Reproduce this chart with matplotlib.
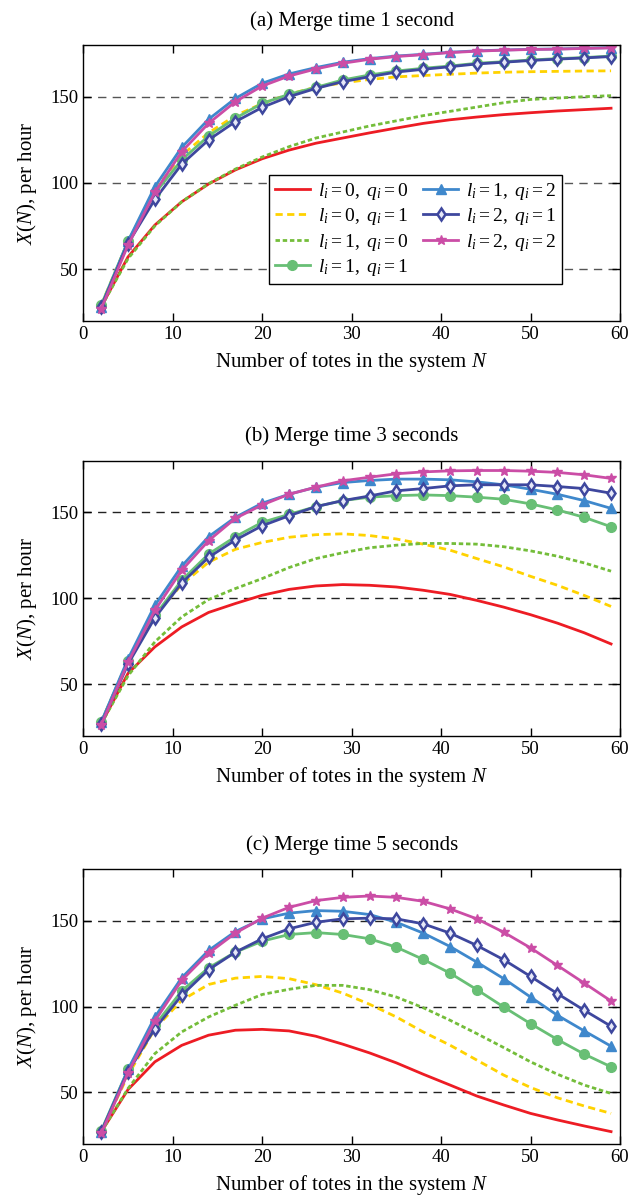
import numpy as np
import matplotlib
matplotlib.use("Agg")
import matplotlib.pyplot as plt

plt.rcParams['font.family'] = ['Liberation Serif', 'DejaVu Serif']
plt.rcParams['mathtext.fontset'] = 'custom'
plt.rcParams['mathtext.rm'] = 'Liberation Serif'
plt.rcParams['mathtext.it'] = 'Liberation Serif:italic'
plt.rcParams['font.size'] = 13

# Number of totes N
N = [2, 5, 8, 11, 14, 17, 20, 23, 26, 29, 32, 35, 38, 41, 44, 47, 50, 53, 56, 59]

labels = [r'$l_i = 0,\ q_i = 0$', r'$l_i = 0,\ q_i = 1$', r'$l_i = 1,\ q_i = 0$',
          r'$l_i = 1,\ q_i = 1$', r'$l_i = 1,\ q_i = 2$', r'$l_i = 2,\ q_i = 1$',
          r'$l_i = 2,\ q_i = 2$']
titles = ["(a) Merge time 1 second", "(b) Merge time 3 seconds", "(c) Merge time 5 seconds"]

# (a) merge time 1 s
a_l0q0 = [28, 57, 75.5, 89, 99.3, 107.5, 114, 119, 123, 126, 129, 131.8, 134.5, 136.6, 138.2, 139.6, 140.7, 141.7, 142.5, 143.3]
a_l0q1 = [29, 66, 96, 116, 129, 139, 146, 151.5, 155.5, 158, 160, 161.5, 162.3, 163, 163.7, 164.2, 164.5, 164.7, 164.9, 165]
a_l1q0 = [28, 56, 75, 89, 99.5, 108, 115, 121, 126, 129.5, 133, 136, 139, 141.5, 144, 146.5, 148.4, 149.2, 150, 150.6]
a_l1q1 = [29, 66.2, 93.9, 113.3, 127.2, 137.5, 146.1, 151.4, 155.4, 159.7, 162.6, 164.9, 166.5, 167.8, 169.4, 170.3, 171.3, 172.1, 172.7, 173.6]
a_l1q2 = [28, 66.2, 97.8, 120.6, 136.9, 149, 157.8, 163.2, 166.9, 170, 172.1, 173.6, 174.6, 175.8, 176.6, 177.1, 177.5, 177.7, 178.1, 178.5]
a_l2q1 = [28, 64.8, 90.4, 110.8, 124.9, 135.5, 143.8, 150, 154.8, 158.7, 161.6, 164.3, 165.9, 167.4, 169, 170, 171, 171.8, 172.5, 173.3]
a_l2q2 = [27, 63.9, 94.5, 118.1, 134.5, 147.1, 156.2, 162, 166.1, 169.4, 171.7, 173.3, 174.4, 175.6, 176.4, 177, 177.4, 177.6, 178, 178.3]

# (b) merge time 3 s
b_l0q0 = [27, 56.4, 71.8, 83.4, 91.8, 97, 101.8, 105.2, 107.2, 108, 107.6, 106.6, 104.7, 102.3, 98.8, 94.9, 90.5, 85.6, 80, 73.5]
b_l0q1 = [28, 64, 90, 108, 121, 128.5, 132.5, 135.5, 137, 137.5, 136.5, 134.5, 131.5, 128, 123.1, 118.3, 112.8, 107.6, 101.7, 95.3]
b_l1q0 = [27, 55, 74.7, 89.2, 99.3, 105.7, 111.5, 117.9, 123.1, 126.5, 129.4, 130.9, 131.9, 131.9, 131.5, 130, 127.6, 124.5, 120.6, 115.8]
b_l1q1 = [28, 63.8, 90.1, 110.5, 125.7, 135.8, 144.2, 148.8, 153.3, 156.8, 158.8, 159.7, 160.1, 159.7, 158.8, 157.6, 154.9, 151.4, 147.1, 141.6]
b_l1q2 = [28, 64.8, 96, 118.7, 135.8, 147.1, 155.3, 160.5, 164.6, 167.3, 168.5, 169.3, 169.3, 168.9, 167.7, 166, 163.4, 160.5, 156.8, 152.3]
b_l2q1 = [27, 61.8, 88.7, 108.9, 123.8, 133.9, 142.2, 148, 153.3, 156.8, 159.5, 162.5, 163.8, 165.4, 166, 166, 166, 165, 163.8, 161.1]
b_l2q2 = [26.5, 62.8, 93, 116.3, 133.5, 146.5, 154.3, 160.5, 164.6, 168.3, 170.4, 172.4, 173.5, 174.1, 174.3, 174.3, 173.9, 173.2, 171.8, 169.7]

# (c) merge time 5 s
c_l0q0 = [27, 51.7, 67.8, 77.4, 83.3, 86.2, 86.7, 85.8, 82.7, 78.1, 73, 67.2, 60.6, 54.3, 47.9, 42.7, 37.8, 34, 30.5, 27.2]
c_l0q1 = [27, 60, 87, 103.6, 112.8, 116.5, 117.5, 116.2, 112.7, 107.8, 101.3, 93.9, 85.2, 77.5, 68.8, 60.1, 52.9, 46.9, 42.1, 37.8]
c_l1q0 = [27, 52.3, 72.6, 85.2, 93.9, 100.7, 107, 110, 112.3, 112.3, 109.8, 105.5, 99.3, 92, 84.2, 76.1, 67.8, 60.6, 54.3, 49.4]
c_l1q1 = [27.6, 63.4, 89.1, 109, 122.5, 131.6, 138, 141.9, 143, 141.9, 139.4, 134.5, 127.4, 119.4, 109.8, 99.7, 90, 80.8, 72.3, 64.9]
c_l1q2 = [27, 63.4, 93.9, 116.7, 132.6, 143.6, 151, 154.3, 155.8, 155.4, 153.5, 149, 142.7, 134.9, 125.8, 116.2, 105.5, 94.9, 85.8, 76.9]
c_l2q1 = [27, 62, 87.1, 106.5, 121.4, 131.6, 139.4, 145.2, 149, 151, 151.4, 151, 148.1, 142.7, 135.5, 127.2, 117.5, 107.5, 97.8, 88.5]
c_l2q2 = [26.2, 61.4, 91.6, 115.2, 131, 142.7, 151.4, 157.7, 161.6, 163.5, 164.3, 163.5, 161.2, 156.8, 151, 143.2, 134.1, 123.9, 113.6, 103.2]

panels = [
    [a_l0q0, a_l0q1, a_l1q0, a_l1q1, a_l1q2, a_l2q1, a_l2q2],
    [b_l0q0, b_l0q1, b_l1q0, b_l1q1, b_l1q2, b_l2q1, b_l2q2],
    [c_l0q0, c_l0q1, c_l1q0, c_l1q1, c_l1q2, c_l2q1, c_l2q2],
]

styles = [
    dict(color='#ED1C24', lw=2.0, ls='-'),
    dict(color='#FFD200', lw=2.0, ls=(0, (2.6, 1.6))),
    dict(color='#74BD3A', lw=2.0, ls=(0, (1.6, 1.0))),
    dict(color='#68BF75', lw=2.0, ls='-', marker='o', ms=7),
    dict(color='#3F88CC', lw=2.0, ls='-', marker='^', ms=7),
    dict(color='#3E479E', lw=2.0, ls='-', marker='d', ms=6, mfc='#e6e8f8', mew=1.8),
    dict(color='#CB4DA6', lw=2.0, ls='-', marker='*', ms=7.5),
]

fig = plt.figure(figsize=(6.37, 11.99), dpi=100)
tops = [45, 460.7, 869]
bots = [320.7, 736, 1144]
W, H = 637.0, 1199.0

for k in range(3):
    ax = fig.add_axes([83.3 / W, 1 - bots[k] / H, (620 - 83.3) / W, (bots[k] - tops[k]) / H])
    for series, st, lab in zip(panels[k], styles, labels):
        ax.plot(N, series, label=lab, **st)
    ax.set_xlim(0, 60)
    ax.set_ylim(20, 180)
    ax.set_xticks(range(0, 61, 10))
    ax.set_yticks([50, 100, 150])
    gcol = '#555555' if k == 0 else '#222222'
    for yv in [50, 100, 150]:
        ax.axhline(yv, color=gcol, lw=1.0, ls=(0, (6, 4.5)), zorder=0)
    ax.tick_params(direction='in', top=True, right=True, length=6, width=1, labelsize=13.5)
    for sp in ax.spines.values():
        sp.set_linewidth(1.0)
    ax.set_title(titles[k], fontsize=15, pad=14)
    ax.set_ylabel(r'$X(N)$, per hour', fontsize=15, labelpad=8)
    ax.set_xlabel(r'Number of totes in the system $N$', fontsize=15, labelpad=5)
    if k == 0:
        leg = ax.legend(ncol=2, loc='upper left', bbox_to_anchor=(0.346, 0.528),
                        borderaxespad=0, fancybox=False, edgecolor='black',
                        framealpha=1, fontsize=14, handlelength=1.8,
                        handletextpad=0.4, columnspacing=0.8, labelspacing=0.22,
                        borderpad=0.3)
        leg.get_frame().set_linewidth(1.0)

fig.savefig("out.png", dpi=100)
